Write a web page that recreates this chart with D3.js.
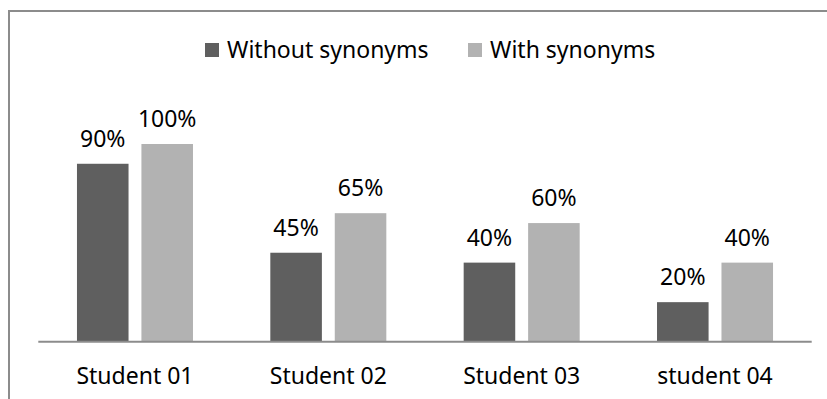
<!DOCTYPE html>
<html>
<head>
<meta charset="utf-8">
<script src="https://cdn.jsdelivr.net/npm/d3@7"></script>
<style>
  html, body { margin: 0; padding: 0; background: #fff; }
  svg { display: block; }
  text { font-family: "Noto Sans", "Open Sans", sans-serif; fill: #000; }
</style>
</head>
<body>
<svg id="chart" width="827" height="399"></svg>
<script>
const categories = ["Student 01", "Student 02", "Student 03", "student 04"];
const seriesNames = ["Without synonyms", "With synonyms"];
const withoutSynonyms = [90, 45, 40, 20];
const withSynonyms = [100, 65, 60, 40];
const seriesColors = ["#5f5f5f", "#b2b2b2"];

const svg = d3.select("#chart");
const W = 827, H = 399;
svg.append("rect").attr("width", W).attr("height", H).attr("fill", "#fff");

// outer border (cropped at right/bottom)
svg.append("rect")
  .attr("x", 9).attr("y", 11)
  .attr("width", 900).attr("height", 500)
  .attr("fill", "none").attr("stroke", "#8c8c8c").attr("stroke-width", 2);

const x0 = d3.scaleBand().domain(categories).range([38.3, 811.7]).paddingInner(0).paddingOuter(0);
const x1 = d3.scaleBand().domain(seriesNames).range([0, x0.bandwidth()]).paddingInner(0.2).paddingOuter(0.6);
const y = d3.scaleLinear().domain([0, 100]).range([341.7, 144]);
const color = d3.scaleOrdinal().domain(seriesNames).range(seriesColors);

const rows = categories.map((c, i) => ({
  cat: c,
  vals: [
    { s: seriesNames[0], v: withoutSynonyms[i] },
    { s: seriesNames[1], v: withSynonyms[i] }
  ]
}));

const g = svg.append("g");
const groups = g.selectAll("g.grp").data(rows).join("g")
  .attr("class", "grp")
  .attr("transform", d => `translate(${x0(d.cat)},0)`);

groups.selectAll("rect").data(d => d.vals).join("rect")
  .attr("x", d => x1(d.s))
  .attr("y", d => y(d.v))
  .attr("width", x1.bandwidth())
  .attr("height", d => y(0) - y(d.v))
  .attr("fill", d => color(d.s));

groups.selectAll("text.lbl").data(d => d.vals).join("text")
  .attr("class", "lbl")
  .attr("x", d => x1(d.s) + x1.bandwidth() / 2)
  .attr("y", d => y(d.v) - 17)
  .attr("text-anchor", "middle")
  .attr("font-size", 23)
  .text(d => d.v + "%");

// x axis
const xAxis = d3.axisBottom(x0).tickSize(0).tickPadding(0);
const ax = svg.append("g").attr("transform", `translate(0,${y(0)})`).call(xAxis);
ax.select(".domain").attr("stroke", "#8c8c8c").attr("stroke-width", 2)
  .attr("d", `M${x0.range()[0]},0H${x0.range()[1]}`);
ax.selectAll(".tick text")
  .attr("y", 384 - y(0)).attr("dy", 0)
  .attr("font-size", 23)
  .attr("font-family", "Noto Sans, Open Sans, sans-serif")
  .attr("fill", "#000");

// legend
const legendX = [205, 468];
const lg = svg.append("g").selectAll("g").data(seriesNames).join("g")
  .attr("transform", (d, i) => `translate(${legendX[i]},43)`);
lg.append("rect").attr("width", 14).attr("height", 14).attr("fill", d => color(d));
lg.append("text").attr("x", 22).attr("y", 14.5).attr("font-size", 23).text(d => d);
</script>
</body>
</html>
